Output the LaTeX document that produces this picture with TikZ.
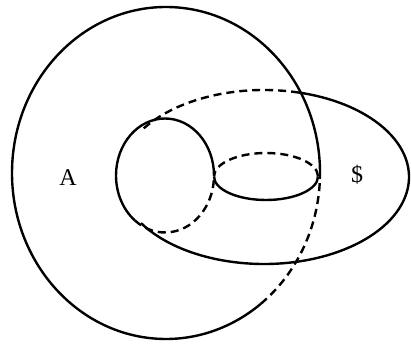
\documentclass[tikz,border=0pt]{standalone}
\usepackage{fontspec}
\setmainfont{Liberation Serif}
\begin{document}
\begin{tikzpicture}[x=1pt,y=1pt,
  solidline/.style={line width=2.4pt},
  dashline/.style={line width=2.4pt, dash pattern=on 8pt off 5pt},
  lbl/.style={font=\fontsize{24}{24}\selectfont, inner sep=0pt}]
\useasboundingbox (0,0) rectangle (411,344);
% big left ellipse
\draw[solidline] (166,171) ++(-2:154 and 166) arc[start angle=-2, end angle=308, x radius=154, y radius=166];
\draw[dashline] (166,171) ++(-52:154 and 166) arc[start angle=-52, end angle=-2, x radius=154, y radius=166];
% right ellipse
\draw[solidline] (264,167) ++(-148:145 and 87) arc[start angle=-148, end angle=76, x radius=145, y radius=87];
\draw[dashline] (264,167) ++(76:145 and 87) arc[start angle=76, end angle=148, x radius=145, y radius=87];
% small circle
\draw[solidline] (165,168.5) ++(0:49 and 57) arc[start angle=0, end angle=232, x radius=49, y radius=57];
\draw[dashline] (165,168.5) ++(232:49 and 57) arc[start angle=232, end angle=360, x radius=49, y radius=57];
% small ellipse
\draw[dashline] (266,167.5) ++(0:52 and 23.5) arc[start angle=0, end angle=180, x radius=52, y radius=23.5];
\draw[solidline] (266,167.5) ++(180:52 and 23.5) arc[start angle=180, end angle=360, x radius=52, y radius=23.5];
\node[lbl] (labelA) at (68,166) {A};
\node[lbl] (labelS) at (357,169) {\$};
\end{tikzpicture}
\end{document}
